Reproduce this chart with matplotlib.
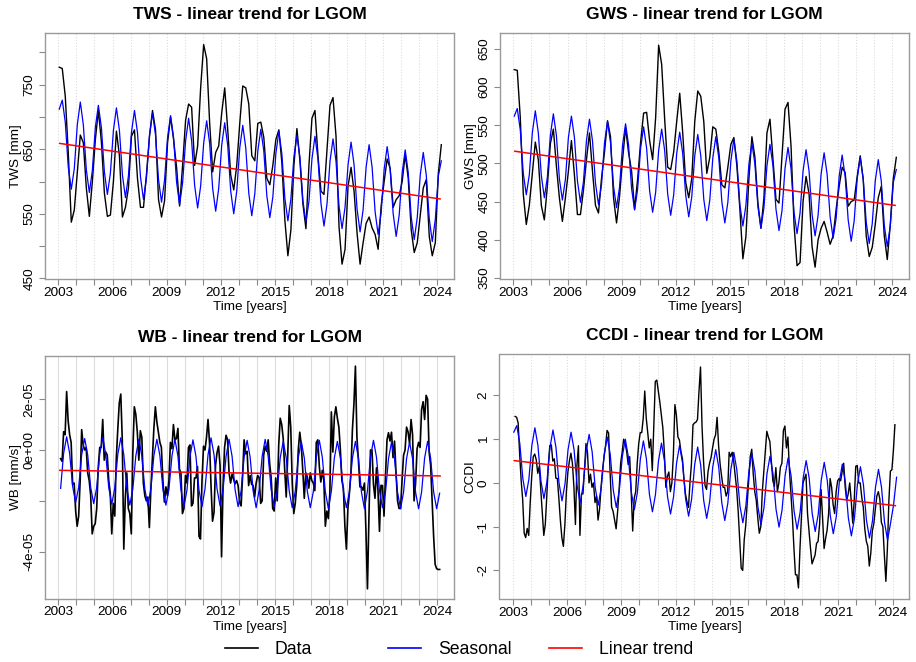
import numpy as np
import matplotlib.pyplot as plt
from matplotlib.lines import Line2D

plt.rcParams['font.family'] = ['Liberation Sans', 'DejaVu Sans']

# time axes in decimal years
t_bi = 2003.05 + np.arange(128) / 6      # two-monthly samples (TWS, GWS, seasonal)
t_mo = 2003.125 + np.arange(253) / 12    # monthly samples (WB, CCDI), Feb 2003 - Feb 2024
t_wb_seas = t_mo[::2]
trend_t = [2003.08, 2024.15]
years = list(range(2003, 2025))

# ---- TWS [mm] ----
tws_data = [777, 775, 732, 644, 537, 556,
            615, 672, 660, 590, 546, 600,
            665, 710, 662, 582, 546, 548,
            600, 678, 640, 545, 560, 590,
            670, 680, 605, 560, 560, 612,
            670, 710, 680, 572, 545, 570,
            660, 700, 665, 622, 562, 625,
            695, 720, 715, 625, 655, 745,
            812, 790, 690, 615, 645, 655,
            706, 745, 680, 610, 587, 625,
            690, 748, 745, 720, 640, 632,
            690, 692, 668, 605, 595, 625,
            665, 680, 629, 540, 485, 525,
            625, 682, 632, 565, 527, 625,
            698, 710, 640, 585, 580, 650,
            718, 730, 670, 530, 472, 495,
            593, 622, 585, 520, 472, 505,
            535, 545, 528, 518, 495, 562,
            600, 635, 620, 560, 572, 578,
            600, 642, 605, 525, 490, 505,
            548, 590, 603, 515, 485, 505,
            612, 657]
tws_seas = [712, 726, 692, 622, 588, 620,
            688, 723, 688, 618, 583, 617,
            684, 718, 684, 615, 580, 613,
            679, 714, 679, 610, 575, 609,
            676, 710, 676, 607, 572, 606,
            672, 706, 672, 603, 568, 602,
            668, 702, 668, 599, 564, 598,
            663, 698, 663, 594, 559, 593,
            659, 694, 659, 589, 554, 589,
            656, 691, 656, 585, 550, 585,
            652, 687, 652, 582, 547, 581,
            647, 681, 647, 578, 544, 576,
            643, 678, 643, 574, 539, 573,
            638, 671, 638, 570, 537, 569,
            635, 670, 635, 566, 531, 565,
            631, 666, 631, 562, 527, 560,
            626, 661, 626, 557, 522, 556,
            622, 657, 622, 553, 518, 552,
            619, 654, 619, 550, 515, 548,
            614, 649, 614, 545, 510, 544,
            610, 645, 610, 542, 507, 541,
            608, 632]
tws_trend = [659, 573]

# ---- GWS [mm] ----
gws_data = [623, 622, 560, 460, 420, 445,
            487, 528, 505, 445, 426, 470,
            526, 545, 497, 455, 424, 455,
            490, 530, 485, 433, 433, 465,
            505, 540, 490, 445, 435, 480,
            515, 556, 535, 455, 422, 457,
            505, 547, 514, 490, 440, 479,
            528, 566, 567, 530, 505, 560,
            655, 630, 558, 495, 492, 515,
            555, 592, 540, 475, 455, 480,
            555, 595, 588, 555, 487, 508,
            548, 545, 515, 472, 468, 495,
            525, 534, 497, 440, 375, 404,
            480, 535, 508, 448, 415, 455,
            540, 558, 505, 453, 448, 510,
            571, 580, 523, 420, 366, 370,
            450, 483, 460, 391, 364, 400,
            415, 424, 410, 394, 405, 440,
            470, 495, 488, 444, 450, 452,
            483, 510, 479, 405, 378, 390,
            420, 455, 470, 405, 374, 420,
            480, 508]
gws_seas = [562, 572, 544, 487, 459, 485,
            540, 569, 540, 484, 455, 482,
            537, 565, 537, 480, 452, 479,
            534, 562, 534, 477, 449, 476,
            530, 558, 530, 474, 446, 472,
            527, 555, 527, 470, 442, 469,
            524, 552, 524, 467, 439, 466,
            520, 548, 520, 464, 436, 462,
            517, 545, 517, 460, 432, 459,
            513, 541, 513, 458, 430, 456,
            510, 538, 510, 453, 425, 452,
            507, 535, 507, 450, 422, 449,
            503, 532, 503, 446, 418, 445,
            499, 527, 499, 443, 415, 442,
            497, 525, 497, 440, 412, 438,
            493, 521, 493, 436, 408, 435,
            490, 518, 490, 433, 405, 432,
            486, 514, 486, 430, 402, 428,
            483, 511, 483, 426, 398, 425,
            480, 508, 480, 423, 395, 421,
            477, 505, 477, 419, 391, 418,
            475, 492]
gws_trend = [516, 445]

# ---- WB [1e-5 mm/s] ----
wb_data = [-0.34, -0.45, 0.72, 0.60, 2.30, 1.15, 0.60, 0.30, -1.35, -1.30, -2.40,
           -3.00, -2.60, -1.20, 0.80, 0.20, 0.00, 0.10, -0.90, -1.20, -1.80, -3.30, -3.00,
           -2.90, -2.30, -0.70, 0.10, 0.10, 1.20, -0.40, -0.08, -0.20, -1.20, -1.70, -3.30,
           -2.10, -2.60, -0.35, 0.80, 1.85, 2.20, 0.40, -3.90, -1.90, -0.90, -2.30, -2.50,
           -3.30, -0.10, 1.70, 1.40, 0.70, -0.40, 0.76, 0.50, -1.30, -1.80, -2.00, -1.85,
           -3.05, -1.55, -0.35, 0.85, 1.70, 1.10, 0.70, 0.30, 0.10, -1.20, -2.05, -1.45,
           -1.80, -1.20, 0.30, 0.05, 1.00, 0.40, 0.45, 0.85, -0.75, -0.90, -2.50, -2.30,
           -1.00, -1.30, 0.10, 0.20, -2.20, -2.10, -1.10, -1.10, -0.65, -3.40, -3.50, -1.20,
           0.15, 0.00, 0.50, 1.20, 0.30, -1.40, -2.80, -2.45, -0.60, -0.10, 0.15, -0.60,
           -4.20, -1.40, 0.10, 0.58, 0.40, -0.90, -1.30, -0.95, -1.15, -1.33, -1.20, -1.40,
           -2.05, -2.20, -1.00, 0.40, -0.15, -0.05, -1.40, -1.00, -1.35, -1.40, -1.85, -1.30,
           -1.00, -1.10, -2.10, -2.00, -0.20, 0.15, -0.05, 0.40, -0.55, -1.10, -2.30, -2.40,
           -1.10, -2.00, 0.20, 1.25, 1.00, 0.45, -0.80, -1.85, -0.20, 1.75, 0.90, -1.30,
           -2.50, -2.10, -1.39, 0.00, 0.70, 0.20, -0.80, -1.90, -0.90, -1.05, -1.50, -0.90,
           -1.20, -1.30, -1.60, 0.30, 0.40, -0.65, -1.26, -0.80, -1.20, -3.00, -2.40, -2.70,
           -1.70, 1.50, -0.08, 1.30, 1.70, 1.25, 0.90, 0.00, -1.20, -1.50, -3.00, -3.90,
           -2.30, -1.70, -0.90, 0.80, 1.80, 3.30, 0.50, -0.40, -1.45, -1.45, -1.58, -1.30,
           -3.20, -5.46, -2.60, 0.00, 0.00, -1.35, -1.90, -0.70, -1.60, -3.20, -1.39, -1.40,
           -2.60, -1.00, 0.40, 0.68, 0.35, 0.70, -0.30, 0.35, -0.90, -2.00, -2.30, -2.30,
           -1.20, -0.21, 0.00, 0.90, 0.71, 0.25, 1.20, 0.60, -2.00, -1.30, 0.05, 0.30,
           0.10, 1.60, 1.90, 1.20, 2.15, 2.00, -0.08, -0.60, -2.00, -3.40, -4.50, -4.67,
           -4.70, -4.70]
wb_seas = [-1.51, -0.13, 0.52, -0.13, -1.43, -2.07,
           -1.47, -0.19, 0.45, -0.19, -1.47, -2.11,
           -1.48, -0.16, 0.50, -0.16, -1.48, -2.13,
           -1.50, -0.18, 0.48, -0.18, -1.50, -2.17,
           -1.54, -0.23, 0.42, -0.23, -1.54, -2.19,
           -1.53, -0.22, 0.42, -0.22, -1.53, -2.17,
           -1.56, -0.24, 0.42, -0.24, -1.56, -2.23,
           -1.58, -0.26, 0.40, -0.26, -1.58, -2.23,
           -1.53, -0.19, 0.48, -0.19, -1.53, -2.19,
           -1.56, -0.25, 0.42, -0.25, -1.56, -2.23,
           -1.61, -0.28, 0.38, -0.28, -1.61, -2.27,
           -1.56, -0.25, 0.42, -0.25, -1.56, -2.23,
           -1.62, -0.31, 0.34, -0.31, -1.62, -2.27,
           -1.62, -0.31, 0.34, -0.31, -1.62, -2.27,
           -1.64, -0.29, 0.38, -0.29, -1.64, -2.31,
           -1.62, -0.31, 0.34, -0.31, -1.62, -2.27,
           -1.65, -0.32, 0.34, -0.32, -1.65, -2.31,
           -1.61, -0.28, 0.38, -0.28, -1.61, -2.27,
           -1.66, -0.34, 0.31, -0.34, -1.66, -2.31,
           -1.66, -0.34, 0.31, -0.34, -1.66, -2.31,
           -1.65, -0.32, 0.34, -0.32, -1.65, -2.31,
           -1.70]
wb_trend = [-0.80, -1.02]

# ---- CCDI ----
ccdi_data = [1.52, 1.50, 1.37, 0.65, 0.05, -0.38, -1.15, -1.25, -1.04, -1.20, -0.45,
             0.15, 0.60, 0.66, 0.53, 0.22, 0.38, -0.15, -0.70, -1.20, -0.95, -0.30, 0.40,
             0.85, 0.87, 0.50, 0.55, 0.11, 0.10, -0.35, -0.85, -1.25, -1.45, -0.95, -0.20,
             0.25, 0.50, 0.68, 0.45, -0.10, -0.95, 0.40, 0.85, -1.20, -0.25, -0.25, 0.30,
             0.90, 0.70, 0.00, 0.20, -0.10, 0.00, -0.45, -0.30, -0.85, -0.60, -0.10, 0.30,
             0.60, 0.85, 1.20, 1.14, 0.25, -0.55, -0.65, -0.85, -1.05, -0.65, -0.15, 0.45,
             0.70, 1.00, 0.90, 0.72, 0.42, 0.60, -0.20, -1.10, -0.35, -0.20, 0.45, 0.90,
             1.15, 1.15, 1.48, 2.10, 1.48, 1.15, 0.80, 1.00, 0.28, 1.30, 2.32, 2.35,
             2.10, 1.85, 1.55, 1.26, 0.70, -0.10, 0.15, 0.25, -0.20, 0.00, 0.65, 1.79,
             1.55, 1.05, 0.98, 0.72, 0.55, 0.10, -0.25, -0.43, -0.56, 0.00, 0.45, 1.33,
             1.37, 1.39, 1.45, 2.10, 2.65, 1.30, 0.50, -0.06, -0.15, 0.26, 0.45, 0.58,
             0.80, 1.00, 1.10, 1.50, 0.85, 0.43, 0.15, -0.10, -0.10, -0.30, -0.20, 0.70,
             0.60, 0.70, 0.50, 0.18, -0.15, -0.65, -1.30, -1.95, -2.00, -1.30, -0.97, -0.45,
             0.10, 0.60, 0.77, 0.20, -0.20, -0.40, -0.80, -1.15, -1.00, -0.20, 0.25, 0.70,
             1.18, 1.05, 0.95, 0.50, 0.05, -0.08, 0.35, -0.20, 0.00, 0.36, 0.45, 1.20,
             1.30, 0.80, 1.05, 0.30, -0.25, -0.80, -1.50, -2.10, -2.10, -2.40, -1.50, -0.75,
             0.00, 0.10, 0.20, -0.70, -1.10, -1.50, -1.85, -1.75, -1.65, -1.38, -1.34, -0.95,
             -0.15, -0.80, -1.50, -1.27, -1.08, -0.70, 0.10, -0.10, -0.50, -0.70, -0.20, 0.05,
             0.10, 0.05, 0.26, 0.45, -0.10, -0.40, -0.25, 0.00, -0.40, -0.92, -0.40, 0.38,
             0.40, 0.00, 0.00, -0.33, -0.55, -1.05, -1.33, -1.45, -1.90, -1.60, -1.10, -0.93,
             -0.60, -0.30, -0.20, -0.37, -0.90, -1.00, -1.65, -2.25, -1.50, -0.40, 0.27, 0.30,
             0.75, 1.33]
ccdi_seas = [1.16, 1.31, 0.90, 0.10, -0.31, 0.08,
             0.86, 1.26, 0.86, 0.05, -0.36, 0.03,
             0.81, 1.21, 0.81, 0.00, -0.41, -0.02,
             0.76, 1.16, 0.76, -0.05, -0.46, -0.07,
             0.71, 1.11, 0.71, -0.10, -0.51, -0.12,
             0.65, 1.05, 0.65, -0.16, -0.56, -0.17,
             0.60, 1.00, 0.60, -0.21, -0.61, -0.22,
             0.55, 0.96, 0.55, -0.26, -0.66, -0.27,
             0.50, 0.91, 0.50, -0.31, -0.71, -0.32,
             0.45, 0.86, 0.45, -0.36, -0.76, -0.37,
             0.41, 0.82, 0.41, -0.40, -0.81, -0.42,
             0.36, 0.76, 0.36, -0.45, -0.86, -0.47,
             0.30, 0.70, 0.30, -0.51, -0.91, -0.52,
             0.26, 0.67, 0.26, -0.55, -0.96, -0.57,
             0.21, 0.61, 0.21, -0.60, -1.01, -0.62,
             0.16, 0.57, 0.16, -0.65, -1.06, -0.67,
             0.11, 0.51, 0.11, -0.70, -1.11, -0.72,
             0.06, 0.47, 0.06, -0.75, -1.16, -0.77,
             0.02, 0.43, 0.02, -0.80, -1.21, -0.82,
             -0.04, 0.37, -0.04, -0.85, -1.26, -0.87,
             -0.10, 0.31, -0.10, -0.90, -1.31, -0.92,
             -0.50, 0.13]
ccdi_trend = [0.51, -0.52]

W, H = 916, 662
fig = plt.figure(figsize=(W / 100, H / 100), dpi=100)


def box(left, top, right, bottom):
    return [left / W, 1 - bottom / H, (right - left) / W, (bottom - top) / H]


def panel(rect, title, ylabel, td, d, ts, s, tr, ylim, yticks, ylabels, grid_y,
          grid_ls=':', data_lw=1.0):
    ax = fig.add_axes(rect)
    ax.plot(td, d, color='black', lw=data_lw)
    ax.plot(ts, s, color='#0000ff', lw=0.9)
    ax.plot(trend_t, tr, color='#ff0000', lw=1.1)
    ax.set_xlim(2002.26, 2024.92)
    ax.set_ylim(*ylim)
    ax.set_xticks(years)
    ax.set_xticklabels([str(y) if (y - 2003) % 3 == 0 else '' for y in years])
    ax.set_yticks(yticks)
    ax.set_yticklabels(ylabels, rotation=90, va='center')
    ax.set_yticks(grid_y, minor=True)
    ax.tick_params(axis='y', which='minor', length=0)
    ax.grid(True, axis='x', which='major', color='#dcdcdc', ls=grid_ls, lw=0.8)
    ax.grid(True, axis='y', which='minor', color='#dcdcdc', ls=':', lw=0.8)
    ax.set_axisbelow(True)
    ax.tick_params(length=4, width=0.8, color='#888888', labelsize=9.7, pad=1.5)
    ax.tick_params(axis='y', pad=3)
    for sp in ax.spines.values():
        sp.set_color('#9a9a9a')
        sp.set_linewidth(1.0)
    ax.set_title(title, fontsize=12.5, fontweight='bold', pad=10)
    ax.set_xlabel('Time [years]', fontsize=9.7)
    ax.xaxis.set_label_coords(0.5, -0.09)
    ax.set_ylabel(ylabel, fontsize=9.7)
    ax.yaxis.set_label_coords(-0.056, 0.5)
    return ax


panel(box(45, 33, 454, 279), 'TWS - linear trend for LGOM', 'TWS [mm]',
      t_bi, tws_data, t_bi, tws_seas, tws_trend, (449, 830),
      list(range(450, 801, 50)), ['450', '', '550', '', '650', '', '750', ''],
      list(range(450, 801, 50)))

panel(box(500, 33, 909, 279), 'GWS - linear trend for LGOM', 'GWS [mm]',
      t_bi, gws_data, t_bi, gws_seas, gws_trend, (348.5, 671),
      list(range(350, 651, 50)), [str(v) for v in range(350, 651, 50)],
      [400, 500, 600])

panel(box(45, 355.7, 454, 598.7), 'WB - linear trend for LGOM', 'WB [mm/s]',
      t_mo, np.array(wb_data) * 1e-5, t_wb_seas, np.array(wb_seas) * 1e-5,
      np.array(wb_trend) * 1e-5, (-5.85e-5, 3.71e-5),
      [2e-5, 0, -2e-5, -4e-5], ['2e-05', '0e+00', '', '-4e-05'],
      [2e-5, 0, -2e-5, -4e-5], grid_ls='-', data_lw=1.2)

panel(box(499.5, 354.3, 909.3, 599.3), 'CCDI - linear trend for LGOM', 'CCDI',
      t_mo, ccdi_data, t_bi, ccdi_seas, ccdi_trend, (-2.66, 2.94),
      [-2, -1, 0, 1, 2], ['-2', '-1', '0', '1', '2'], [-2, -1, 0, 1, 2])

# legend at the bottom, three equally spaced entries
entries = [('Data', 'black', 225), ('Seasonal', '#0000ff', 388), ('Linear trend', '#ff0000', 549)]
for label, col, x0 in entries:
    fig.legend(handles=[Line2D([], [], color=col, lw=1.2)], labels=[label],
               loc='center left', bbox_to_anchor=(x0 / W, 1 - 650 / H),
               frameon=False, fontsize=12.7, handlelength=1.87, handletextpad=0.95,
               borderpad=0, borderaxespad=0)

fig.savefig('out.png', dpi=100)
